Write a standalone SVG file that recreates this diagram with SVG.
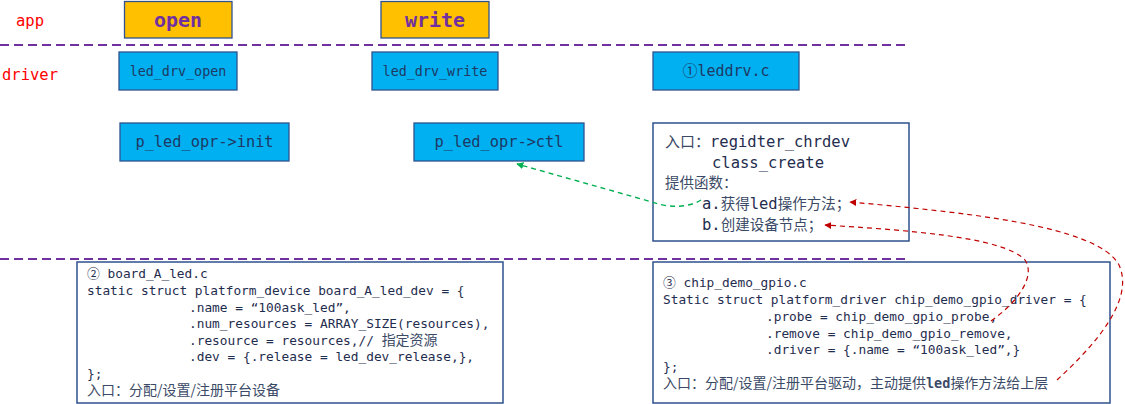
<svg xmlns="http://www.w3.org/2000/svg" width="1125" height="404" viewBox="0 0 1125 404">
<style>
.mono{font-family:"DejaVu Sans Mono","Liberation Mono","Noto Sans CJK SC",monospace;}
.lbl{fill:#FF0000;font-size:15.5px;}
.app{fill:#FFC000;stroke:#2F528F;stroke-width:1.3;}
.appt{fill:#7030A0;font-size:20px;font-weight:bold;text-anchor:middle;}
.drv{fill:#00B0F0;stroke:#2F528F;stroke-width:1.3;}
.drvt{fill:#1F3864;text-anchor:middle;}
.box{fill:#FFFFFF;stroke:#2F528F;stroke-width:1.5;}
.txt{fill:#1F2D4F;}
.cjk{font-family:"Noto Sans CJK SC",sans-serif;fill:#3B4A66;}
.sep{stroke:#7030A0;stroke-width:2;stroke-dasharray:9,5;fill:none;}
.green{stroke:#00B050;stroke-width:1.4;stroke-dasharray:5,4;fill:none;}
.red{stroke:#C00000;stroke-width:1.2;stroke-dasharray:5,4;fill:none;}
</style>
<defs>
<marker id="ag" viewBox="0 0 10 10" refX="9" refY="5" markerWidth="7" markerHeight="7" orient="auto" markerUnits="userSpaceOnUse"><path d="M0,0 L10,5 L0,10 Z" fill="#00B050"/></marker>
<marker id="ar" viewBox="0 0 10 10" refX="9" refY="5" markerWidth="7" markerHeight="7" orient="auto" markerUnits="userSpaceOnUse"><path d="M0,0 L10,5 L0,10 Z" fill="#C00000"/></marker>
</defs>
<rect width="1125" height="404" fill="#FFFFFF"/>
<g id="separators">
<line class="sep" x1="0" y1="45" x2="908" y2="45"/>
<line class="sep" x1="0" y1="259" x2="908" y2="259"/>
</g>
<g id="layer-labels">
<text class="mono lbl" x="16" y="26">app</text>
<text class="mono lbl" x="2" y="80">driver</text>
</g>
<g id="open"><rect class="app" x="124.5" y="1.5" width="107.5" height="36.5"/><text class="mono appt" x="178" y="27">open</text></g>
<g id="write"><rect class="app" x="381" y="1.5" width="108" height="36.5"/><text class="mono appt" x="435" y="27">write</text></g>
<g id="led_drv_open"><rect class="drv" x="119" y="52" width="118" height="38"/><text class="mono drvt" x="178" y="76" font-size="13.4">led_drv_open</text></g>
<g id="led_drv_write"><rect class="drv" x="372" y="52" width="126" height="38"/><text class="mono drvt" x="435" y="76" font-size="13.4">led_drv_write</text></g>
<g id="leddrv"><rect class="drv" x="653" y="52" width="146" height="38"/><text class="mono drvt" x="726" y="76" font-size="15">①leddrv.c</text></g>
<g id="init"><rect class="drv" x="120" y="123" width="169" height="38"/><text class="mono drvt" x="204.5" y="147" font-size="15.3">p_led_opr-&gt;init</text></g>
<g id="ctl"><rect class="drv" x="414" y="123" width="170" height="38"/><text class="mono drvt" x="499" y="147" font-size="15.3">p_led_opr-&gt;ctl</text></g>
<g id="leddrv-info">
<rect class="box" x="653" y="123" width="256" height="118"/>
<text class="mono txt" font-size="15.5">
<tspan x="665" y="147"><tspan class="cjk" font-size="15">入口：</tspan>regidter_chrdev</tspan>
<tspan x="712" y="168">class_create</tspan>
<tspan x="665" y="188" class="cjk" font-size="14.5">提供函数：</tspan>
<tspan x="702" y="209">a.<tspan class="cjk" font-size="14.5">获得</tspan>led<tspan class="cjk" font-size="14.5">操作方法；</tspan></tspan>
<tspan x="702" y="230">b.<tspan class="cjk" font-size="14.5">创建设备节点；</tspan></tspan>
</text>
</g>
<g id="board_A_led">
<rect class="box" x="77" y="262" width="426" height="141"/>
<text class="mono txt" font-size="12.8" xml:space="preserve">
<tspan x="87" y="278">② board_A_led.c</tspan>
<tspan x="87" y="295">static struct platform_device board_A_led_dev = {</tspan>
<tspan x="189" y="312">.name = “100ask_led”,</tspan>
<tspan x="189" y="328">.num_resources = ARRAY_SIZE(resources),</tspan>
<tspan x="189" y="345">.resource = resources,// <tspan class="cjk" font-size="14">指定资源</tspan></tspan>
<tspan x="189" y="361">.dev = {.release = led_dev_release,},</tspan>
<tspan x="87" y="378">};</tspan>
</text>
<text class="cjk" font-size="14" x="87" y="395">入口：分配/设置/注册平台设备</text>
</g>
<g id="chip_demo_gpio">
<rect class="box" x="653" y="262" width="457" height="141"/>
<text class="mono txt" font-size="12.8" xml:space="preserve">
<tspan x="663" y="287">③ chip_demo_gpio.c</tspan>
<tspan x="663" y="304">Static struct platform_driver chip_demo_gpio_driver = {</tspan>
<tspan x="766" y="321">.probe = chip_demo_gpio_probe,</tspan>
<tspan x="766" y="338">.remove = chip_demo_gpio_remove,</tspan>
<tspan x="766" y="354">.driver = {.name = “100ask_led”,}</tspan>
<tspan x="663" y="371">};</tspan>
</text>
<text class="cjk" font-size="14" x="663" y="388">入口：分配/设置/注册平台驱动，主动提供<tspan class="mono" font-weight="bold" font-size="13.5">led</tspan>操作方法给上层</text>
</g>
<g id="connectors">
<path class="green" d="M701,200 C688,208 668,208 652,202 L517,164" marker-end="url(#ag)"/>
<path class="red" d="M1057,380 C1095,345 1135,300 1119,265 C1098,225 960,212 850,202" marker-end="url(#ar)"/>
<path class="red" d="M991,321 C1018,302 1036,276 1025,260 C1003,236 900,230 825,225" marker-end="url(#ar)"/>
</g>
</svg>
